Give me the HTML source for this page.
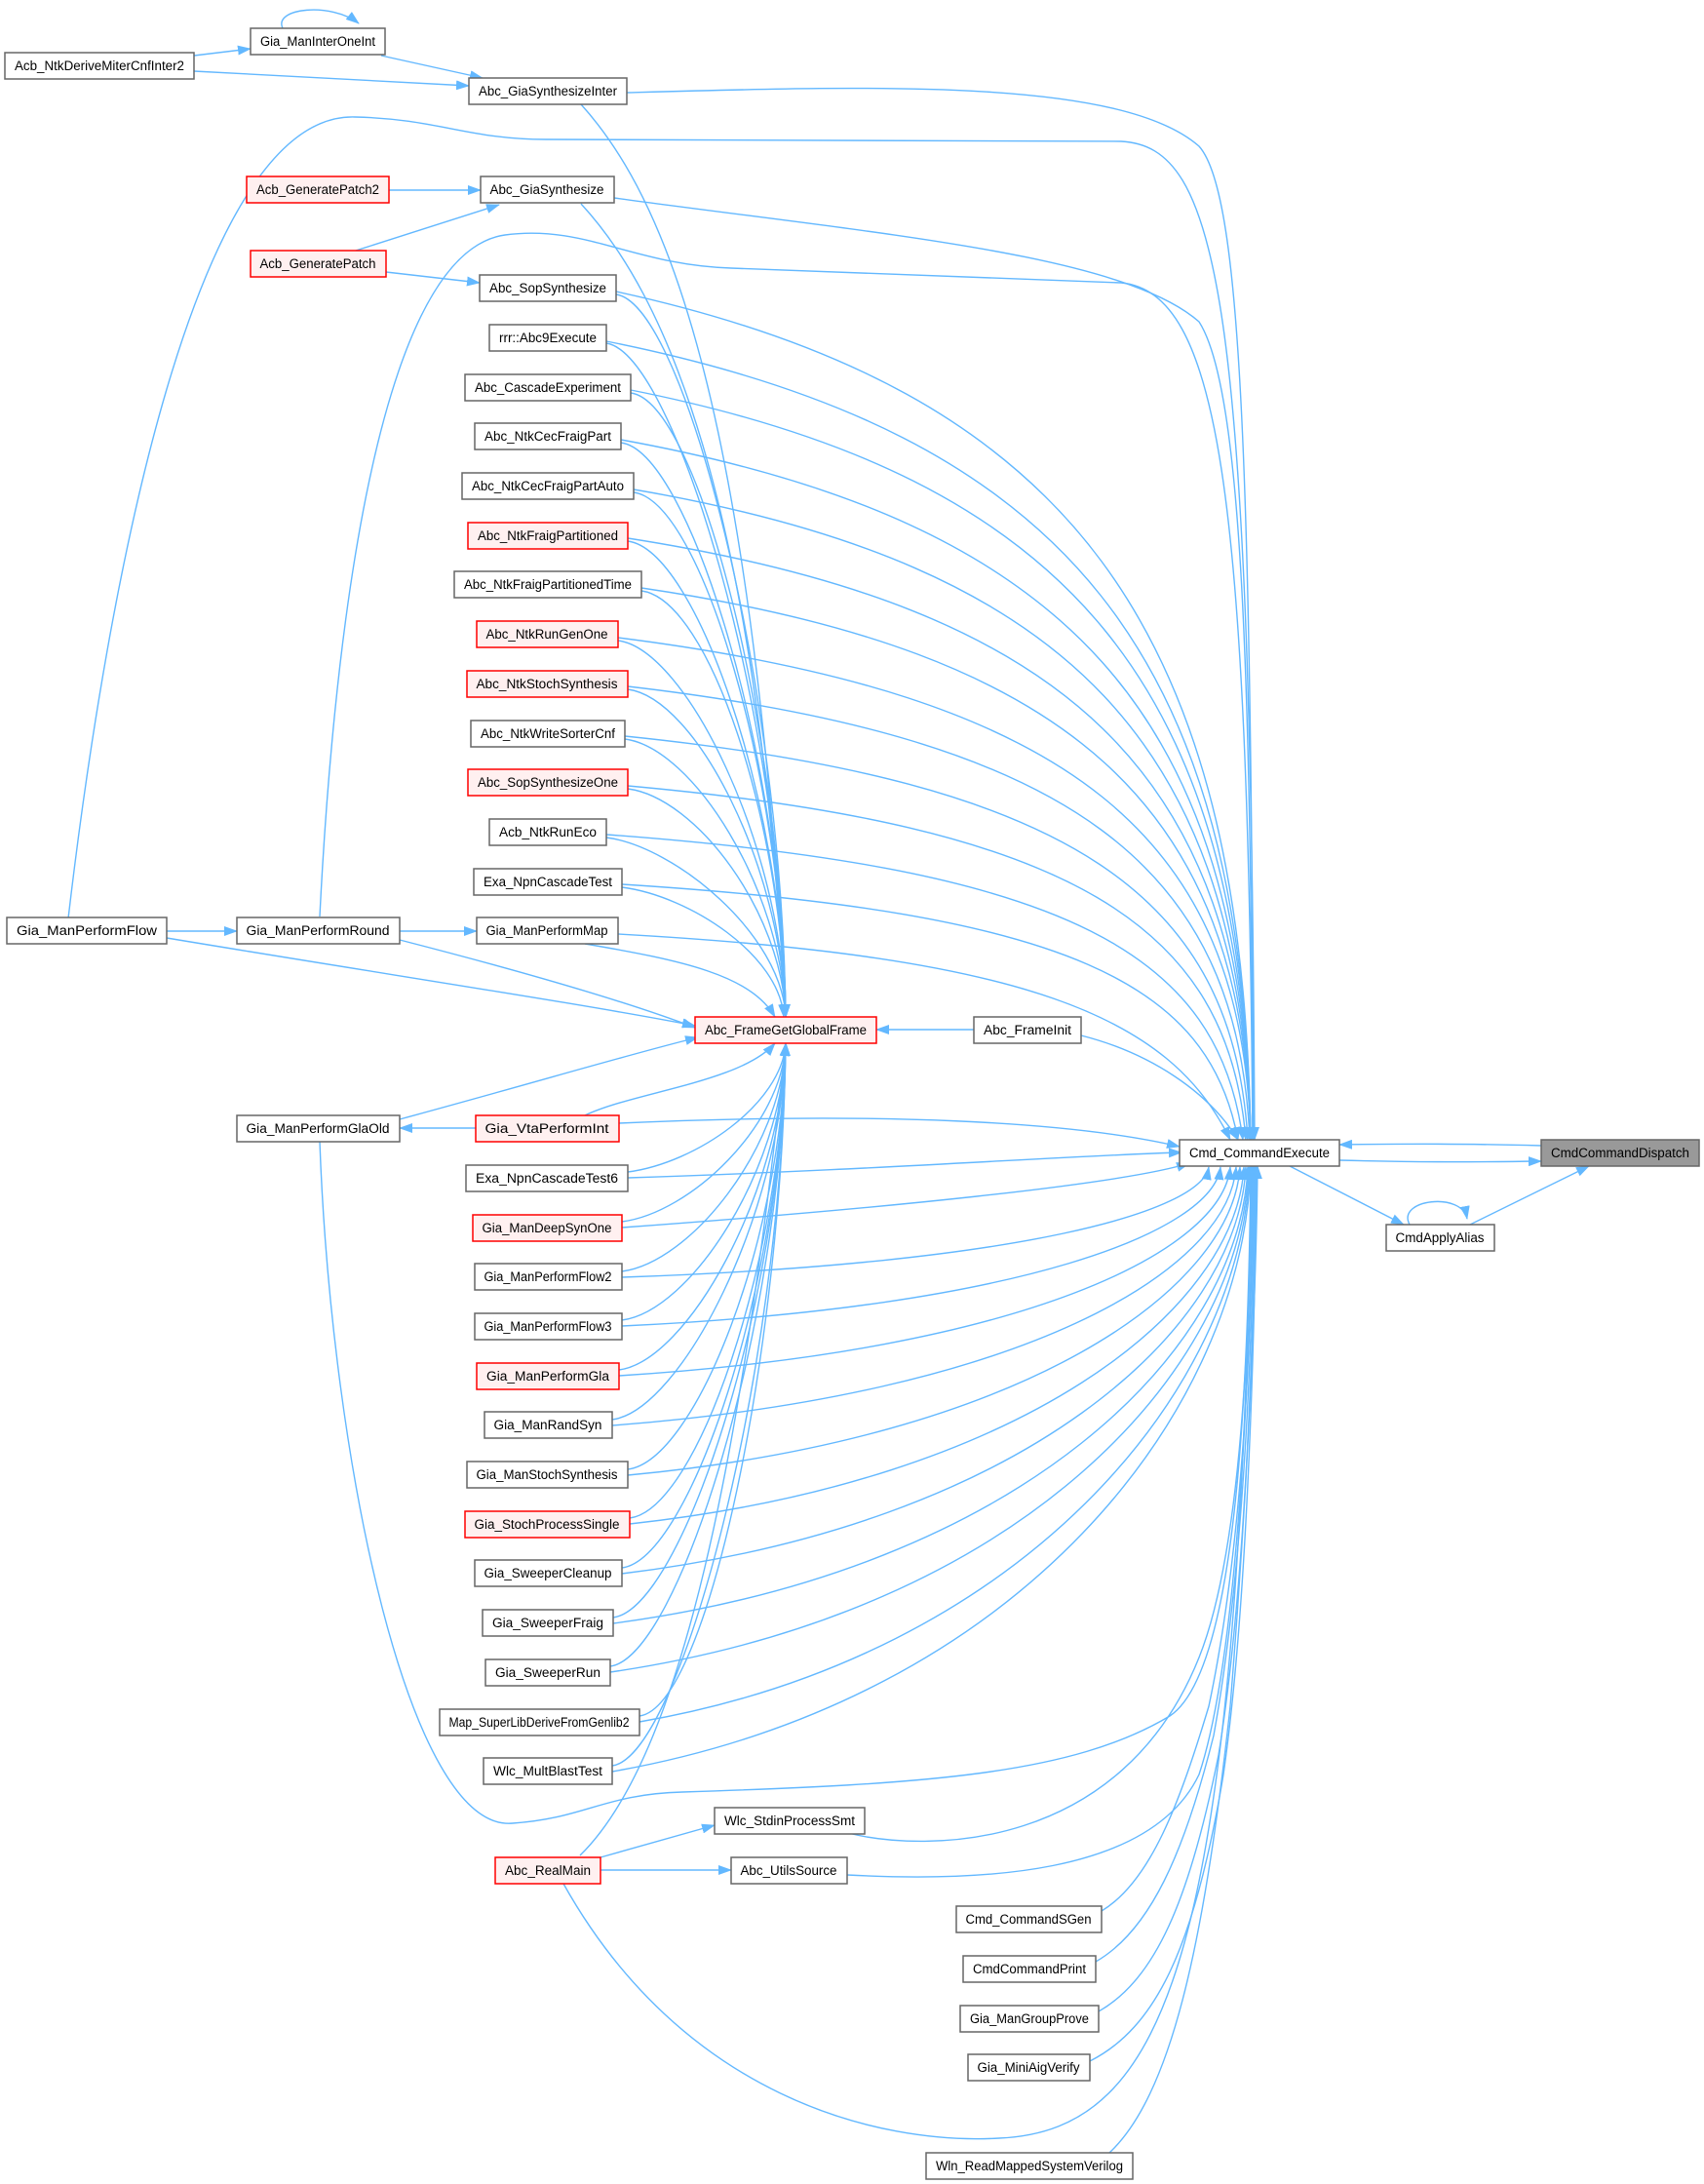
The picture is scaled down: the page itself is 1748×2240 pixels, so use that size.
<!DOCTYPE html>
<html><head><meta charset="utf-8"><style>
html,body{margin:0;padding:0;background:#fff;}
svg{display:block;}
text{font-family:"Liberation Sans",Arial,sans-serif;font-size:13.5px;fill:#000;text-anchor:middle;}
.n{fill:#fff;stroke:#666;stroke-width:1.5;}
.r{fill:#fff0f0;stroke:#ff0000;stroke-width:1.5;}
.g{fill:#999;stroke:#666;stroke-width:1.5;}
path.e{fill:none;stroke:#63b8ff;stroke-width:1.4;marker-end:url(#a);}
path.l{fill:none;stroke:#63b8ff;stroke-width:1.4;}
</style></head><body>
<svg width="1748" height="2240" viewBox="0 0 1748 2240" xmlns="http://www.w3.org/2000/svg">
<defs><marker id="a" markerWidth="14" markerHeight="10" refX="13" refY="5" orient="auto" markerUnits="userSpaceOnUse"><path d="M0,0 L14,5 L0,10z" fill="#63b8ff"/></marker></defs>

<!-- top-left edges -->
<path class="e" d="M290,29 C280,8 340,2 368,24"/>
<path class="e" d="M199,57 L257,50"/>
<path class="e" d="M199,73 L481,88"/>
<path class="e" d="M391,57 L495,80"/>
<path class="e" d="M399,195 L493,195"/>
<path class="e" d="M365,257 L512,210"/>
<path class="e" d="M396,279 L492,290"/>

<!-- GiaSynthesizeInter / GiaSynthesize to Cmd and FGGF -->
<path class="e" d="M643,95 C900,88 1150,80 1230,150 C1275,200 1283,500 1286,1169"/>
<path class="e" d="M630,203 C900,240 1150,260 1230,330 C1275,400 1283,700 1285,1169"/>
<path class="e" d="M596,107 C680,200 770,400 806,1043"/>
<path class="e" d="M596,209 C680,300 775,500 806,1043"/>

<!-- Gia_ManPerformFlow / Round / GlaOld long curves -->
<path class="e" d="M70,942 C110,600 200,115 364,120 C450,122 480,143 560,143 L1150,145 C1250,150 1283,300 1287,1169"/>
<path class="e" d="M328,940 C340,700 380,260 518,241 C600,230 650,272 750,275 L1150,290 C1250,300 1280,500 1285,1169"/>
<path class="e" d="M328,1171 C340,1500 420,1880 526,1870 C600,1865 620,1840 700,1838 C950,1830 1100,1820 1200,1760 C1260,1720 1280,1500 1283,1196"/>
<path class="e" d="M171,955 L243,955"/>
<path class="e" d="M410,955 L489,955"/>
<path class="e" d="M488,1157 L410,1157"/>
<path class="e" d="M171,962 C400,1000 600,1030 713,1052"/>
<path class="e" d="M410,964 C550,1000 650,1030 713,1054"/>
<path class="e" d="M410,1148 C550,1110 650,1080 716,1064"/>

<!-- upper column to Cmd -->
<path class="e" d="M632,299 C1100,401 1275,645 1283,1169"/>
<path class="e" d="M622,350 C1100,445 1275,676 1283,1169"/>
<path class="e" d="M647,400 C1100,490 1275,706 1283,1169"/>
<path class="e" d="M637,451 C1100,535 1275,736 1283,1169"/>
<path class="e" d="M650,502 C1100,579 1275,767 1283,1169"/>
<path class="e" d="M644,552 C1100,623 1275,797 1283,1169"/>
<path class="e" d="M658,603 C1100,668 1275,828 1283,1169"/>
<path class="e" d="M634,654 C1100,713 1275,858 1283,1169"/>
<path class="e" d="M644,704 C1100,757 1270,888 1282,1169"/>
<path class="e" d="M641,755 C1100,802 1265,919 1280,1169"/>
<path class="e" d="M644,806 C1100,847 1260,949 1278,1169"/>
<path class="e" d="M622,856 C1100,891 1250,980 1275,1169"/>
<path class="e" d="M638,907 C1100,936 1240,1010 1270,1169"/>
<path class="e" d="M634,958 C1050,981 1200,1041 1262,1169"/>
<!-- upper column to FGGF -->
<path class="e" d="M632,302 C702,311 802,703 806,1043"/>
<path class="e" d="M622,352 C692,362 802,730 806,1043"/>
<path class="e" d="M647,403 C717,412 802,752 806,1043"/>
<path class="e" d="M637,454 C707,463 802,775 806,1043"/>
<path class="e" d="M650,505 C720,514 802,798 806,1043"/>
<path class="e" d="M644,555 C714,564 802,821 806,1043"/>
<path class="e" d="M658,606 C728,615 802,844 806,1043"/>
<path class="e" d="M634,657 C704,666 802,867 806,1043"/>
<path class="e" d="M644,707 C714,716 802,889 806,1043"/>
<path class="e" d="M641,758 C711,767 802,912 806,1043"/>
<path class="e" d="M644,809 C714,818 802,935 806,1043"/>
<path class="e" d="M622,859 C692,868 802,958 806,1043"/>
<path class="e" d="M638,910 C708,919 800,980 804,1043"/>
<path class="e" d="M600,968 C700,985 770,1000 795,1043"/>

<!-- lower column to FGGF -->
<path class="e" d="M600,1144 C650,1120 760,1110 795,1070"/>
<path class="e" d="M644,1202 C714,1193 802,1132 806,1070"/>
<path class="e" d="M638,1253 C708,1244 802,1155 806,1070"/>
<path class="e" d="M638,1304 C708,1295 802,1178 806,1070"/>
<path class="e" d="M638,1354 C708,1345 802,1201 806,1070"/>
<path class="e" d="M635,1405 C705,1396 802,1223 806,1070"/>
<path class="e" d="M628,1456 C698,1447 802,1246 806,1070"/>
<path class="e" d="M644,1507 C714,1498 802,1270 806,1070"/>
<path class="e" d="M646,1557 C716,1548 802,1292 806,1070"/>
<path class="e" d="M638,1608 C708,1599 802,1315 806,1070"/>
<path class="e" d="M629,1659 C699,1650 802,1338 806,1070"/>
<path class="e" d="M626,1709 C696,1700 802,1360 806,1070"/>
<path class="e" d="M656,1760 C726,1751 802,1383 806,1070"/>
<path class="e" d="M628,1811 C698,1802 802,1406 806,1070"/>
<path class="e" d="M595,1903 C700,1800 760,1500 806,1070"/>

<!-- lower column to Cmd -->
<path class="e" d="M635,1152 C900,1140 1100,1150 1210,1176"/>
<path class="e" d="M644,1208 C900,1200 1100,1185 1212,1182"/>
<path class="e" d="M638,1259 C900,1240 1150,1215 1220,1193"/>
<path class="e" d="M638,1310 C1050,1296 1232,1242 1240,1197"/>
<path class="e" d="M638,1360 C1050,1341 1244,1262 1252,1197"/>
<path class="e" d="M635,1411 C1050,1385 1254,1283 1262,1197"/>
<path class="e" d="M628,1462 C1050,1430 1260,1303 1268,1197"/>
<path class="e" d="M644,1513 C1050,1475 1264,1323 1272,1197"/>
<path class="e" d="M646,1563 C1050,1519 1268,1343 1276,1197"/>
<path class="e" d="M638,1614 C1050,1564 1270,1364 1278,1197"/>
<path class="e" d="M629,1665 C1050,1609 1272,1384 1280,1197"/>
<path class="e" d="M626,1715 C1050,1653 1273,1404 1281,1197"/>
<path class="e" d="M656,1766 C1050,1698 1274,1425 1282,1197"/>
<path class="e" d="M628,1817 C1050,1743 1275,1445 1283,1197"/>

<!-- bottom -->
<path class="e" d="M578,1932 C700,2150 900,2200 1025,2193 C1200,2185 1270,2000 1284,1196"/>
<path class="e" d="M616,1905 L733,1872"/>
<path class="e" d="M616,1918 L750,1918"/>
<path class="e" d="M870,1880 C950,1900 1150,1900 1230,1700 C1270,1600 1282,1400 1284,1196"/>
<path class="e" d="M869,1923 C1000,1930 1180,1925 1230,1820 C1270,1700 1283,1400 1285,1196"/>
<path class="e" d="M1130,1960 C1180,1930 1210,1850 1240,1750 C1272,1600 1284,1400 1286,1196"/>
<path class="e" d="M1124,2012 C1180,1980 1215,1900 1245,1780 C1274,1620 1285,1400 1287,1196"/>
<path class="e" d="M1127,2063 C1185,2030 1220,1950 1250,1800 C1276,1640 1286,1400 1288,1196"/>
<path class="e" d="M1118,2114 C1185,2080 1225,2000 1255,1820 C1278,1660 1287,1400 1289,1196"/>
<path class="e" d="M1138,2208 C1200,2150 1235,2000 1262,1750 C1282,1500 1289,1300 1290,1196"/>

<!-- right side -->
<path class="e" d="M999,1056 L899,1056"/>
<path class="e" d="M1109,1062 C1180,1080 1240,1120 1270,1169"/>
<path class="e" d="M1581,1175 C1500,1173 1450,1173 1374,1174"/>
<path class="e" d="M1374,1190 C1450,1192 1500,1192 1581,1191"/>
<path class="e" d="M1323,1196 L1440,1256"/>
<path class="e" d="M1508,1256 L1630,1196"/>
<path class="e" d="M1446,1256 C1432,1230 1500,1222 1505,1250"/>

<!-- nodes -->
<rect class="n" x="5" y="54" width="194" height="27"/><text x="102" y="72" textLength="174" lengthAdjust="spacingAndGlyphs">Acb_NtkDeriveMiterCnfInter2</text>
<rect class="n" x="257" y="29" width="138" height="27"/><text x="326" y="47" textLength="118" lengthAdjust="spacingAndGlyphs">Gia_ManInterOneInt</text>
<rect class="n" x="481" y="80" width="162" height="27"/><text x="562" y="98" textLength="142" lengthAdjust="spacingAndGlyphs">Abc_GiaSynthesizeInter</text>
<rect class="r" x="253" y="181" width="146" height="27"/><text x="326" y="199" textLength="126" lengthAdjust="spacingAndGlyphs">Acb_GeneratePatch2</text>
<rect class="n" x="493" y="181" width="137" height="27"/><text x="561" y="199" textLength="117" lengthAdjust="spacingAndGlyphs">Abc_GiaSynthesize</text>
<rect class="r" x="257" y="257" width="139" height="27"/><text x="326" y="275" textLength="119" lengthAdjust="spacingAndGlyphs">Acb_GeneratePatch</text>
<rect class="n" x="492" y="282" width="140" height="27"/><text x="562" y="300" textLength="120" lengthAdjust="spacingAndGlyphs">Abc_SopSynthesize</text>
<rect class="n" x="502" y="333" width="120" height="27"/><text x="562" y="351" textLength="100" lengthAdjust="spacingAndGlyphs">rrr::Abc9Execute</text>
<rect class="n" x="477" y="384" width="170" height="27"/><text x="562" y="402" textLength="150" lengthAdjust="spacingAndGlyphs">Abc_CascadeExperiment</text>
<rect class="n" x="487" y="434" width="150" height="27"/><text x="562" y="452" textLength="130" lengthAdjust="spacingAndGlyphs">Abc_NtkCecFraigPart</text>
<rect class="n" x="474" y="485" width="176" height="27"/><text x="562" y="503" textLength="156" lengthAdjust="spacingAndGlyphs">Abc_NtkCecFraigPartAuto</text>
<rect class="r" x="480" y="536" width="164" height="27"/><text x="562" y="554" textLength="144" lengthAdjust="spacingAndGlyphs">Abc_NtkFraigPartitioned</text>
<rect class="n" x="466" y="586" width="192" height="27"/><text x="562" y="604" textLength="172" lengthAdjust="spacingAndGlyphs">Abc_NtkFraigPartitionedTime</text>
<rect class="r" x="489" y="637" width="145" height="27"/><text x="561" y="655" textLength="125" lengthAdjust="spacingAndGlyphs">Abc_NtkRunGenOne</text>
<rect class="r" x="479" y="688" width="165" height="27"/><text x="561" y="706" textLength="145" lengthAdjust="spacingAndGlyphs">Abc_NtkStochSynthesis</text>
<rect class="n" x="483" y="739" width="158" height="27"/><text x="562" y="757" textLength="138" lengthAdjust="spacingAndGlyphs">Abc_NtkWriteSorterCnf</text>
<rect class="r" x="480" y="789" width="164" height="27"/><text x="562" y="807" textLength="144" lengthAdjust="spacingAndGlyphs">Abc_SopSynthesizeOne</text>
<rect class="n" x="502" y="840" width="120" height="27"/><text x="562" y="858" textLength="100" lengthAdjust="spacingAndGlyphs">Acb_NtkRunEco</text>
<rect class="n" x="486" y="891" width="152" height="27"/><text x="562" y="909" textLength="132" lengthAdjust="spacingAndGlyphs">Exa_NpnCascadeTest</text>
<rect class="n" x="489" y="941" width="145" height="27"/><text x="561" y="959" textLength="125" lengthAdjust="spacingAndGlyphs">Gia_ManPerformMap</text>
<rect class="n" x="7" y="941" width="164" height="27"/><text x="89" y="959" textLength="144" lengthAdjust="spacingAndGlyphs">Gia_ManPerformFlow</text>
<rect class="n" x="243" y="941" width="167" height="27"/><text x="326" y="959" textLength="147" lengthAdjust="spacingAndGlyphs">Gia_ManPerformRound</text>
<rect class="r" x="713" y="1043" width="186" height="27"/><text x="806" y="1061" textLength="166" lengthAdjust="spacingAndGlyphs">Abc_FrameGetGlobalFrame</text>
<rect class="n" x="999" y="1043" width="110" height="27"/><text x="1054" y="1061" textLength="90" lengthAdjust="spacingAndGlyphs">Abc_FrameInit</text>
<rect class="n" x="243" y="1144" width="167" height="27"/><text x="326" y="1162" textLength="147" lengthAdjust="spacingAndGlyphs">Gia_ManPerformGlaOld</text>
<rect class="r" x="488" y="1144" width="147" height="27"/><text x="561" y="1162" textLength="127" lengthAdjust="spacingAndGlyphs">Gia_VtaPerformInt</text>
<rect class="n" x="1210" y="1169" width="164" height="27"/><text x="1292" y="1187" textLength="144" lengthAdjust="spacingAndGlyphs">Cmd_CommandExecute</text>
<rect class="g" x="1581" y="1169" width="162" height="27"/><text x="1662" y="1187" textLength="142" lengthAdjust="spacingAndGlyphs">CmdCommandDispatch</text>
<rect class="n" x="1422" y="1256" width="111" height="27"/><text x="1477" y="1274" textLength="91" lengthAdjust="spacingAndGlyphs">CmdApplyAlias</text>
<rect class="n" x="478" y="1195" width="166" height="27"/><text x="561" y="1213" textLength="146" lengthAdjust="spacingAndGlyphs">Exa_NpnCascadeTest6</text>
<rect class="r" x="485" y="1246" width="153" height="27"/><text x="561" y="1264" textLength="133" lengthAdjust="spacingAndGlyphs">Gia_ManDeepSynOne</text>
<rect class="n" x="487" y="1296" width="151" height="27"/><text x="562" y="1314" textLength="131" lengthAdjust="spacingAndGlyphs">Gia_ManPerformFlow2</text>
<rect class="n" x="487" y="1347" width="151" height="27"/><text x="562" y="1365" textLength="131" lengthAdjust="spacingAndGlyphs">Gia_ManPerformFlow3</text>
<rect class="r" x="489" y="1398" width="146" height="27"/><text x="562" y="1416" textLength="126" lengthAdjust="spacingAndGlyphs">Gia_ManPerformGla</text>
<rect class="n" x="497" y="1448" width="131" height="27"/><text x="562" y="1466" textLength="111" lengthAdjust="spacingAndGlyphs">Gia_ManRandSyn</text>
<rect class="n" x="479" y="1499" width="165" height="27"/><text x="561" y="1517" textLength="145" lengthAdjust="spacingAndGlyphs">Gia_ManStochSynthesis</text>
<rect class="r" x="477" y="1550" width="169" height="27"/><text x="561" y="1568" textLength="149" lengthAdjust="spacingAndGlyphs">Gia_StochProcessSingle</text>
<rect class="n" x="487" y="1600" width="151" height="27"/><text x="562" y="1618" textLength="131" lengthAdjust="spacingAndGlyphs">Gia_SweeperCleanup</text>
<rect class="n" x="495" y="1651" width="134" height="27"/><text x="562" y="1669" textLength="114" lengthAdjust="spacingAndGlyphs">Gia_SweeperFraig</text>
<rect class="n" x="498" y="1702" width="128" height="27"/><text x="562" y="1720" textLength="108" lengthAdjust="spacingAndGlyphs">Gia_SweeperRun</text>
<rect class="n" x="451" y="1753" width="205" height="27"/><text x="553" y="1771" textLength="185" lengthAdjust="spacingAndGlyphs">Map_SuperLibDeriveFromGenlib2</text>
<rect class="n" x="496" y="1803" width="132" height="27"/><text x="562" y="1821" textLength="112" lengthAdjust="spacingAndGlyphs">Wlc_MultBlastTest</text>
<rect class="n" x="733" y="1854" width="154" height="27"/><text x="810" y="1872" textLength="134" lengthAdjust="spacingAndGlyphs">Wlc_StdinProcessSmt</text>
<rect class="r" x="508" y="1905" width="108" height="27"/><text x="562" y="1923" textLength="88" lengthAdjust="spacingAndGlyphs">Abc_RealMain</text>
<rect class="n" x="750" y="1905" width="119" height="27"/><text x="809" y="1923" textLength="99" lengthAdjust="spacingAndGlyphs">Abc_UtilsSource</text>
<rect class="n" x="981" y="1955" width="149" height="27"/><text x="1055" y="1973" textLength="129" lengthAdjust="spacingAndGlyphs">Cmd_CommandSGen</text>
<rect class="n" x="988" y="2006" width="136" height="27"/><text x="1056" y="2024" textLength="116" lengthAdjust="spacingAndGlyphs">CmdCommandPrint</text>
<rect class="n" x="985" y="2057" width="142" height="27"/><text x="1056" y="2075" textLength="122" lengthAdjust="spacingAndGlyphs">Gia_ManGroupProve</text>
<rect class="n" x="993" y="2107" width="125" height="27"/><text x="1055" y="2125" textLength="105" lengthAdjust="spacingAndGlyphs">Gia_MiniAigVerify</text>
<rect class="n" x="950" y="2208" width="212" height="27"/><text x="1056" y="2226" textLength="192" lengthAdjust="spacingAndGlyphs">Wln_ReadMappedSystemVerilog</text>
</svg>
</body></html>
